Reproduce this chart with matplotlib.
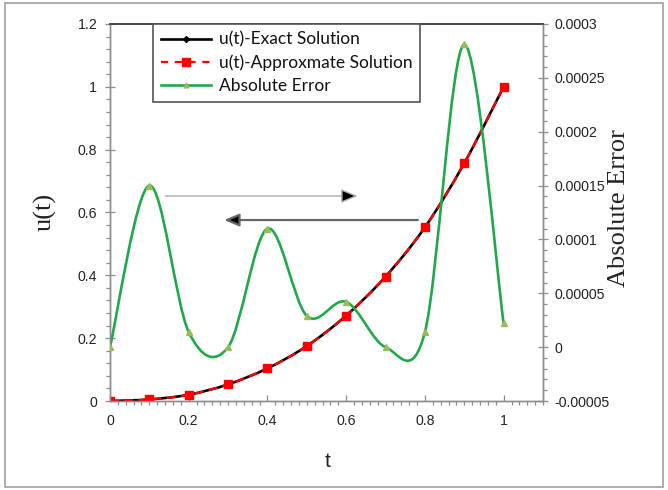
import numpy as np
import matplotlib
matplotlib.use("Agg")
import matplotlib.pyplot as plt
from matplotlib.path import Path
from matplotlib.patches import PathPatch, Rectangle
from matplotlib.lines import Line2D
from matplotlib.ticker import MultipleLocator, FixedLocator

# ---- data ----
t = [0.0, 0.1, 0.2, 0.3, 0.4, 0.5, 0.6, 0.7, 0.8, 0.9, 1.0]
u_exact = [0.0, 0.005, 0.02, 0.053, 0.104, 0.175, 0.272, 0.396, 0.553, 0.757, 1.0]
u_approx = [0.0, 0.005, 0.02, 0.053, 0.104, 0.175, 0.272, 0.396, 0.553, 0.757, 1.0]
abs_err = [0.0, 1.5e-4, 1.4e-5, 0.0, 1.1e-4, 2.9e-5, 4.2e-5, 0.0, 1.4e-5, 2.81e-4, 2.2e-5]

left_ticks = [0, 0.2, 0.4, 0.6, 0.8, 1.0, 1.2]
left_labels = ["0", "0.2", "0.4", "0.6", "0.8", "1", "1.2"]
right_ticks = [-0.00005, 0.0, 0.00005, 0.0001, 0.00015, 0.0002, 0.00025, 0.0003]
right_labels = ["-0.00005", "0", "0.00005", "0.0001", "0.00015", "0.0002", "0.00025", "0.0003"]
x_ticks = [0, 0.2, 0.4, 0.6, 0.8, 1.0]
x_labels = ["0", "0.2", "0.4", "0.6", "0.8", "1"]

legend_labels = ["u(t)-Exact Solution", "u(t)-Approxmate Solution", "Absolute Error"]


def smooth_path(x, y):
    x = np.asarray(x, float)
    y = np.asarray(y, float)
    n = len(x)
    verts = [(x[0], y[0])]
    codes = [Path.MOVETO]
    for i in range(n - 1):
        a = i - 1 if i > 0 else i
        b = i + 2 if i + 2 < n else i + 1
        c1 = (x[i] + (x[i + 1] - x[a]) / 6.0, y[i] + (y[i + 1] - y[a]) / 6.0)
        c2 = (x[i + 1] - (x[b] - x[i]) / 6.0, y[i + 1] - (y[b] - y[i]) / 6.0)
        verts += [c1, c2, (x[i + 1], y[i + 1])]
        codes += [Path.CURVE4] * 3
    return Path(verts, codes)


black = "#000000"
red = "#ff0000"
green = "#1faa4a"
green_mk = "#9bbb59"

fig = plt.figure(figsize=(6.68, 4.90), dpi=100)
ax = fig.add_axes([110 / 668, 89 / 490, 433 / 668, 377 / 490])
ax2 = ax.twinx()

# left axis series
ax.add_patch(PathPatch(smooth_path(t, u_exact), fill=False, ec=black, lw=1.9,
                       capstyle="butt", zorder=2))
ax.plot(t, u_exact, ls="none", marker="D", ms=3.5, color=black, zorder=3)
ax.add_patch(PathPatch(smooth_path(t, u_approx), fill=False, ec=red, lw=1.6,
                       ls=(0, (4, 2.4)), capstyle="butt", zorder=4))
ax.plot(t, u_approx, ls="none", marker="s", ms=5.5, color=red, zorder=5)

# right axis series
ax2.add_patch(PathPatch(smooth_path(t, abs_err), fill=False, ec=green, lw=1.9,
                        capstyle="round", zorder=2))
ax2.plot(t, abs_err, ls="none", marker="^", ms=4, color=green_mk, zorder=3)

ax.set_xlim(0, 1.1)
ax.set_ylim(0, 1.2)
ax2.set_ylim(-0.00005, 0.0003)

tick_font = dict(family="Liberation Sans", size=10.2)
ax.xaxis.set_major_locator(FixedLocator(x_ticks))
ax.set_xticklabels(x_labels, fontdict=tick_font, color="#222222")
ax.xaxis.set_minor_locator(MultipleLocator(0.02))
ax.yaxis.set_major_locator(FixedLocator(left_ticks))
ax.set_yticklabels(left_labels, fontdict=tick_font, color="#222222")
ax.yaxis.set_minor_locator(MultipleLocator(0.04))
ax2.yaxis.set_major_locator(FixedLocator(right_ticks))
ax2.set_yticklabels(right_labels, fontdict=tick_font, color="#222222")
ax2.yaxis.set_minor_locator(MultipleLocator(0.00001))

tc = "#8c8c8c"
ax.tick_params(axis="x", which="major", direction="in", length=4, width=0.9, color=tc, pad=9)
ax.tick_params(axis="x", which="minor", direction="out", length=3, width=0.9, color=tc)
ax.tick_params(axis="y", which="major", direction="inout", length=6.5, width=0.9, color=tc, pad=6)
ax.tick_params(axis="y", which="minor", direction="out", length=3, width=0.9, color=tc)
ax2.tick_params(axis="y", which="major", direction="inout", length=6.5, width=0.9, color=tc, pad=5)
ax2.tick_params(axis="y", which="minor", direction="out", length=3, width=0.9, color=tc)

for a in (ax, ax2):
    for s in ("left", "bottom", "right"):
        a.spines[s].set_color("#8c8c8c")
        a.spines[s].set_linewidth(1.0)
    a.spines["top"].set_color("#444444")
    a.spines["top"].set_linewidth(1.2)

# arrows indicating which axis each curve belongs to
ax.annotate("", xy=(0.629, 0.6525), xytext=(0.14, 0.6525),
            arrowprops=dict(arrowstyle="-|>,head_length=1.0,head_width=0.42",
                            color="#aaaaaa", lw=1.0, fc="black", ec="#aaaaaa",
                            shrinkA=0, shrinkB=0), zorder=6)
ax.annotate("", xy=(0.29, 0.576), xytext=(0.782, 0.576),
            arrowprops=dict(arrowstyle="-|>,head_length=0.9,head_width=0.38",
                            color="#666666", lw=1.6, fc="black", ec="#666666",
                            shrinkA=0, shrinkB=0), zorder=6)

# legend
handles = [
    Line2D([], [], color=black, lw=1.9, marker="D", ms=3.0),
    Line2D([], [], color=red, lw=1.6, ls=(0, (3.2, 3.0)), marker="s", ms=5.5),
    Line2D([], [], color=green, lw=1.9, marker="^", ms=3.5, mfc=green_mk, mec=green_mk),
]
leg = ax2.legend(handles, legend_labels, loc="upper left",
                 bbox_to_anchor=((153 - 110) / 433, 1.0), borderaxespad=0,
                 prop=dict(family="Lato", size=12.5), handlelength=2.9,
                 handletextpad=0.45, borderpad=0.45, labelspacing=0.38,
                 fancybox=False, framealpha=1, edgecolor="#555555")
leg.get_frame().set_linewidth(1.2)
for txt in leg.get_texts():
    txt.set_color("#111111")

# axis labels
fig.text(328 / 668, 1 - 461 / 490, "t", ha="center", va="center",
         family="Liberation Sans", size=15, color="#222222")
fig.text(45 / 668, 1 - 212 / 490, "u(t)", ha="center", va="center", rotation=90,
         family="Liberation Serif", size=19, color="#222222")
fig.text(619 / 668, 1 - 208 / 490, "Absolute Error", ha="center", va="center",
         rotation=90, family="Liberation Serif", size=19, color="#222222")

# outer frame
fig.add_artist(Rectangle((5 / 668, 3 / 490), 658 / 668, 484 / 490,
                         transform=fig.transFigure, fill=False, ec="#a0a0a0", lw=1.2))

fig.savefig("out.png", dpi=100)
